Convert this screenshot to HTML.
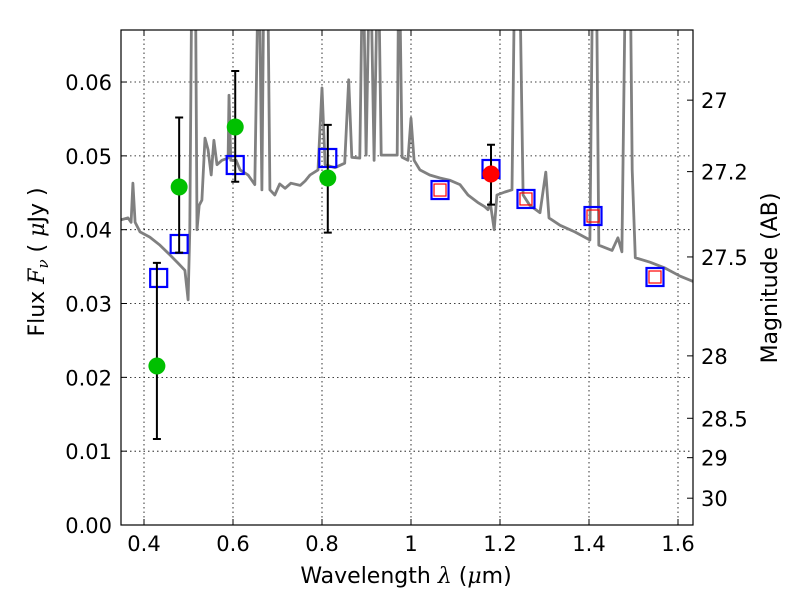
<!DOCTYPE html>
<html><head><meta charset="utf-8"><style>
body{margin:0;background:#fff}
svg{display:block;font-family:"DejaVu Sans","Liberation Sans",sans-serif}
</style></head><body>
<svg id="chart" width="800" height="600" viewBox="0 0 800 600">
<defs><clipPath id="pc"><rect x="121" y="30" width="572" height="495"/></clipPath></defs>
<g id="grid"></g>
<g id="marks" clip-path="url(#pc)"></g>
<rect x="121" y="30" width="572" height="495" fill="none" stroke="#000" stroke-width="1.2"/>
<g id="axes"></g>
<text x="406" y="583" text-anchor="middle" font-size="22">Wavelength  <tspan font-style="italic" font-family="DejaVu Serif,serif">λ</tspan> (<tspan font-style="italic" font-family="DejaVu Serif,serif">μ</tspan>m)</text>
<text transform="translate(44,262) rotate(-90)" text-anchor="middle" font-size="22">Flux  <tspan font-style="italic" font-family="DejaVu Serif,serif">F<tspan font-size="15" dy="4">ν</tspan></tspan><tspan dy="-4">  (  </tspan><tspan font-style="italic" font-family="DejaVu Serif,serif">μ</tspan>Jy )</text>
<text transform="translate(777,278) rotate(-90)" text-anchor="middle" font-size="22">Magnitude (AB)</text>
</svg>
<script>
const specWave=[0.346,0.364,0.371,0.375,0.380,0.391,0.413,0.436,0.458,0.476,0.492,0.499,0.503,0.508,0.515,0.519,0.524,0.530,0.537,0.544,0.551,0.557,0.564,0.575,0.589,0.591,0.595,0.607,0.616,0.634,0.649,0.658,0.665,0.670,0.677,0.683,0.694,0.705,0.717,0.730,0.751,0.762,0.773,0.791,0.800,0.807,0.829,0.851,0.860,0.867,0.885,0.892,0.899,0.908,0.917,0.926,0.933,0.953,0.969,0.973,0.980,0.993,1.000,1.007,1.020,1.042,1.065,1.087,1.110,1.128,1.150,1.166,1.173,1.178,1.187,1.193,1.211,1.227,1.234,1.243,1.252,1.267,1.290,1.303,1.310,1.335,1.368,1.402,1.409,1.416,1.422,1.452,1.465,1.474,1.483,1.492,1.497,1.504,1.537,1.571,1.605,1.634];
const specFlux=[0.0413,0.0416,0.0410,0.0463,0.0410,0.0397,0.0390,0.0379,0.0366,0.0355,0.0345,0.0305,0.0400,0.08,0.08,0.0400,0.0433,0.0440,0.0524,0.0508,0.0474,0.0521,0.0488,0.0494,0.0497,0.0582,0.0494,0.0494,0.0481,0.0474,0.0461,0.08,0.0454,0.08,0.08,0.0454,0.0447,0.0462,0.0456,0.0463,0.0460,0.0466,0.0474,0.0481,0.0592,0.0488,0.0484,0.0490,0.0603,0.0498,0.0497,0.08,0.0501,0.08,0.0494,0.08,0.0501,0.0501,0.0501,0.08,0.0498,0.0494,0.0551,0.0494,0.0481,0.0474,0.0470,0.0467,0.0461,0.0447,0.0437,0.0431,0.0427,0.0437,0.0400,0.0447,0.0451,0.0454,0.08,0.08,0.0447,0.0433,0.0423,0.0478,0.0416,0.0406,0.0397,0.0386,0.08,0.08,0.0379,0.0372,0.0389,0.0370,0.08,0.08,0.0481,0.0362,0.0356,0.0348,0.0337,0.0330];
const obsWave=[0.4290,0.4790,0.6050,0.8130];
const obsFlux=[0.02154,0.04578,0.05391,0.0470];
const obsLo=[0.01165,0.0369,0.0465,0.0396];
const obsHi=[0.0355,0.0552,0.0615,0.0542];
const redWave=[1.1798];const redFlux=[0.04754];const redLo=[0.0434];const redHi=[0.0515];
const modelWave=[0.4330,0.4790,0.6050,0.8130,1.0652,1.1798,1.2584,1.4090,1.5483];
const modelFlux=[0.03346,0.03806,0.04876,0.04971,0.04537,0.04822,0.04416,0.04185,0.03359];
const innerWave=[1.0652,1.2584,1.4090,1.5483];
const innerFlux=[0.04537,0.04416,0.04185,0.03359];
const xTicks=[0.4,0.6,0.8,1.0,1.2,1.4,1.6];
const xTickLabels=["0.4","0.6","0.8","1","1.2","1.4","1.6"];
const yTicks=[0,0.01,0.02,0.03,0.04,0.05,0.06];
const yTickLabels=["0.00","0.01","0.02","0.03","0.04","0.05","0.06"];
const magTicks=[27,27.2,27.5,28,28.5,29,30];
const magLabels=["27","27.2","27.5","28","28.5","29","30"];

const X0=121.75,XR=445,xmin=0.35,Y0=525,YR=7383;
const sx=v=>X0+(v-xmin)*XR;
const sy=v=>Y0-v*YR;
const NS="http://www.w3.org/2000/svg";
function mk(tag,at,parent){const e=document.createElementNS(NS,tag);for(const k in at)e.setAttribute(k,at[k]);parent.appendChild(e);return e;}
const grid=document.getElementById('grid'),marks=document.getElementById('marks'),axes=document.getElementById('axes');
xTicks.forEach((t,i)=>{
 let l=mk('line',{x1:sx(t),x2:sx(t),y1:30,y2:525,stroke:'#000','stroke-width':0.8,'stroke-dasharray':'1.5,3'},grid);
 
 mk('line',{x1:sx(t),x2:sx(t),y1:525,y2:519,stroke:'#000'},axes);
 mk('line',{x1:sx(t),x2:sx(t),y1:30,y2:36,stroke:'#000'},axes);
 let tx=mk('text',{x:sx(t),y:551,'text-anchor':'middle','font-size':21},axes);tx.textContent=xTickLabels[i];
 
});
yTicks.forEach((t,i)=>{
 let l=mk('line',{x1:121,x2:693,y1:sy(t),y2:sy(t),stroke:'#000','stroke-width':0.8,'stroke-dasharray':'1.5,3'},grid);
 
 mk('line',{x1:121,x2:127,y1:sy(t),y2:sy(t),stroke:'#000'},axes);
 let tx=mk('text',{x:112,y:sy(t)+8,'text-anchor':'end','font-size':21},axes);tx.textContent=yTickLabels[i];
 
});
magTicks.forEach((m,i)=>{
 const f=Math.pow(10,(23.9-m)/2.5);const y=sy(f);
 mk('line',{x1:687,x2:693,y1:y,y2:y,stroke:'#000'},axes);
 let tx=mk('text',{x:701,y:y+8,'font-size':21},axes);tx.textContent=magLabels[i];
 
});
let d=specWave.map((w,i)=>(i?'L':'M')+sx(w).toFixed(1)+','+sy(specFlux[i]).toFixed(1)).join('');
let sp=mk('path',{d:d,fill:'none',stroke:'#808080','stroke-width':2.8,'stroke-linejoin':'round'},marks);

function errbars(W,L,H,name){W.forEach((w,i)=>{const x=sx(w);
 let g=mk('path',{d:`M${x},${sy(L[i])}V${sy(H[i])}M${x-4},${sy(L[i])}h8M${x-4},${sy(H[i])}h8`,stroke:'#000','stroke-width':2,fill:'none'},marks);
 });}
modelWave.forEach((w,i)=>{let r=mk('rect',{x:sx(w)-8.5,y:sy(modelFlux[i])-9,width:17,height:18,fill:'none',stroke:'#0000ff','stroke-width':2.2},marks);
 });
innerWave.forEach((w,i)=>{let r=mk('rect',{x:sx(w)-6,y:sy(innerFlux[i])-6,width:12,height:12,fill:'none',stroke:'#ff0000','stroke-width':1.2},marks);
 });
errbars(obsWave,obsLo,obsHi,'observed-errorbar');
errbars(redWave,redLo,redHi,'red-errorbar');
obsWave.forEach((w,i)=>{let c=mk('circle',{cx:sx(w),cy:sy(obsFlux[i]),r:8.5,fill:'#00c000'},marks);
 });
redWave.forEach((w,i)=>{let c=mk('circle',{cx:sx(w),cy:sy(redFlux[i]),r:8.5,fill:'#ff0000'},marks);
 });
</script>
</body></html>
